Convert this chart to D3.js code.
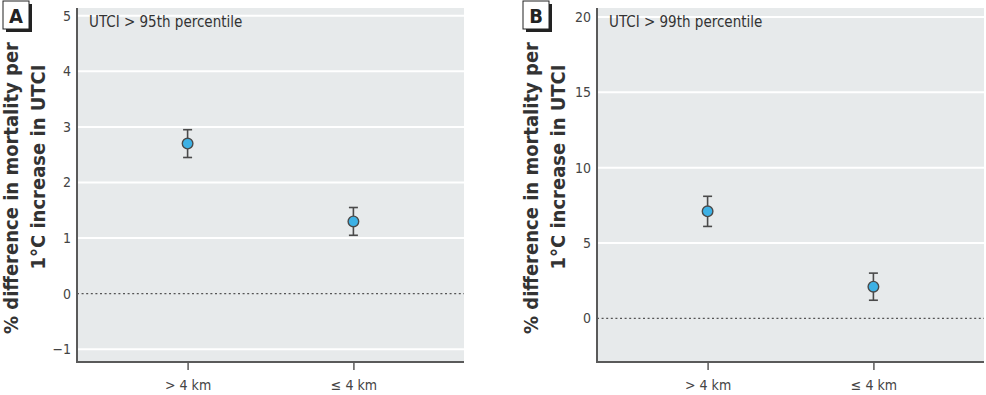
<!DOCTYPE html>
<html>
<head>
<meta charset="utf-8">
<script src="https://cdn.jsdelivr.net/npm/d3@7"></script>
<style>
  body { margin: 0; background: #fff; }
  svg text { font-family: "DejaVu Sans", sans-serif; font-stretch: condensed; }
</style>
</head>
<body>
<div id="svg-container"></div>
<script>
// categories on the x axis
const categories = ['> 4 km', '\u2264 4 km'];

// panel A: UTCI > 95th percentile
const estimatesA = [2.7, 1.3];
const lowerA = [2.45, 1.05];
const upperA = [2.95, 1.55];
const ticksA = [-1, 0, 1, 2, 3, 4, 5];
const domainA = [-1.23, 5.14];

// panel B: UTCI > 99th percentile
const estimatesB = [7.1, 2.1];
const lowerB = [6.1, 1.2];
const upperB = [8.1, 3.0];
const ticksB = [0, 5, 10, 15, 20];
const domainB = [-2.9, 20.6];

const yLabelLines = ['% difference in mortality per', '1\u00b0C increase in UTCI'];

const panels = [
    { letter: 'A', title: 'UTCI > 95th percentile', est: estimatesA, lo: lowerA, hi: upperA, ticks: ticksA, domain: domainA, left: 77 },
    { letter: 'B', title: 'UTCI > 99th percentile', est: estimatesB, lo: lowerB, hi: upperB, ticks: ticksB, domain: domainB, left: 597 }
];

const params = {
    plotWidth: 387,
    top: 8,
    bottom: 362,
    bg: '#e7eaeb',
    axisColor: '#5a5a5a',
    pointFill: '#3db1e5',
    pointStroke: '#4a4a4a'
};

const svg = d3.select('#svg-container')
    .append('svg')
    .attr('width', 986)
    .attr('height', 395);

const drawPanel = (p) => {
    const g = svg.append('g').attr('class', 'panel');
    const x = d3.scalePoint()
        .domain(categories)
        .range([p.left, p.left + params.plotWidth])
        .padding(0.667);
    const y = d3.scaleLinear()
        .domain(p.domain)
        .range([params.bottom, params.top]);

    // background
    g.append('rect')
        .attr('x', p.left)
        .attr('y', params.top)
        .attr('width', params.plotWidth)
        .attr('height', params.bottom - params.top)
        .attr('fill', params.bg);

    // white gridlines (zero gets a dotted line instead)
    g.selectAll('line.grid').data(p.ticks.filter(t => t !== 0))
        .enter().append('line')
        .attr('class', 'grid')
        .attr('x1', p.left).attr('x2', p.left + params.plotWidth)
        .attr('y1', d => y(d)).attr('y2', d => y(d))
        .attr('stroke', '#fff')
        .attr('stroke-width', 2);

    g.append('line')
        .attr('x1', p.left).attr('x2', p.left + params.plotWidth)
        .attr('y1', y(0)).attr('y2', y(0))
        .attr('stroke', '#555')
        .attr('stroke-width', 1.3)
        .attr('stroke-dasharray', '2,2.6');

    // y axis
    const yAxis = g.append('g')
        .attr('transform', `translate(${p.left},0)`)
        .call(d3.axisLeft(y).tickValues(p.ticks).tickSize(0).tickPadding(6)
            .tickFormat(d => d < 0 ? '\u2212' + Math.abs(d) : d));
    yAxis.select('.domain').remove();
    yAxis.selectAll('text').attr('font-size', 14).attr('fill', '#444');

    // x axis
    const xAxis = g.append('g')
        .attr('transform', `translate(0,${params.bottom})`)
        .call(d3.axisBottom(x).tickSize(8).tickPadding(10));
    xAxis.select('.domain').remove();
    xAxis.selectAll('.tick line').attr('stroke', params.axisColor).attr('stroke-width', 1.5);
    xAxis.selectAll('text').attr('font-size', 14).attr('fill', '#444');

    // axis lines
    g.append('path')
        .attr('d', `M${p.left},${params.top}V${params.bottom}H${p.left + params.plotWidth}`)
        .attr('fill', 'none')
        .attr('stroke', params.axisColor)
        .attr('stroke-width', 2);

    // title
    g.append('text')
        .attr('x', p.left + 12)
        .attr('y', 27)
        .attr('font-size', 15)
        .attr('fill', '#333')
        .text(p.title);

    // error bars and points
    const pts = categories.map((c, i) => ({ cat: c, est: p.est[i], lo: p.lo[i], hi: p.hi[i] }));
    const pg = g.selectAll('g.pt').data(pts).enter().append('g').attr('class', 'pt');
    pg.append('line')
        .attr('x1', d => x(d.cat)).attr('x2', d => x(d.cat))
        .attr('y1', d => y(d.lo)).attr('y2', d => y(d.hi))
        .attr('stroke', params.pointStroke).attr('stroke-width', 1.6);
    ['lo', 'hi'].forEach(k => {
        pg.append('line')
            .attr('x1', d => x(d.cat) - 4.5).attr('x2', d => x(d.cat) + 4.5)
            .attr('y1', d => y(d[k])).attr('y2', d => y(d[k]))
            .attr('stroke', params.pointStroke).attr('stroke-width', 1.6);
    });
    pg.append('circle')
        .attr('cx', d => x(d.cat))
        .attr('cy', d => y(d.est))
        .attr('r', 5.3)
        .attr('fill', params.pointFill)
        .attr('stroke', params.pointStroke)
        .attr('stroke-width', 1.4);

    // y axis label (two rotated lines)
    const labelX = p.left - 77;
    const yl = g.append('text')
        .attr('transform', `translate(${labelX + 10},185) rotate(-90)`)
        .attr('text-anchor', 'middle')
        .attr('font-size', 20)
        .attr('font-weight', 'bold')
        .attr('fill', '#333');
    yl.append('tspan').attr('x', -3).attr('y', 8).text(yLabelLines[0]);
    yl.append('tspan').attr('x', 18).attr('y', 35).text(yLabelLines[1]);

    // panel letter box with shadow
    const bx = p.left - 74, by = 1;
    g.append('rect')
        .attr('x', bx + 3).attr('y', by + 3)
        .attr('width', 26).attr('height', 28)
        .attr('fill', '#222');
    g.append('rect')
        .attr('x', bx).attr('y', by)
        .attr('width', 26).attr('height', 28)
        .attr('fill', '#fff')
        .attr('stroke', '#222')
        .attr('stroke-width', 1);
    g.append('text')
        .attr('x', bx + 13).attr('y', by + 22)
        .attr('text-anchor', 'middle')
        .attr('font-size', 20)
        .attr('font-weight', 'bold')
        .attr('fill', '#222')
        .text(p.letter);
};

panels.forEach(drawPanel);
</script>
</body>
</html>
